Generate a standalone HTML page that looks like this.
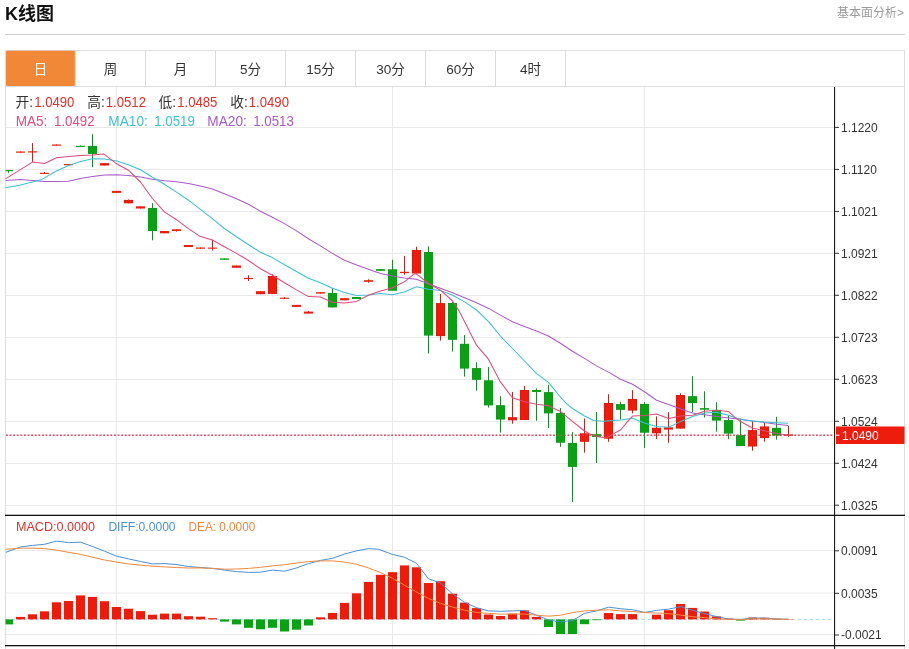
<!DOCTYPE html>
<html lang="zh-CN"><head><meta charset="utf-8"><title>K线图</title>
<style>
html,body{margin:0;padding:0;background:#fff;}
body{width:909px;height:649px;overflow:hidden;position:relative;font-family:"Liberation Sans","Noto Sans CJK SC",sans-serif;}
svg{position:absolute;left:0;top:0;display:block}
text{font-family:"Liberation Sans","Noto Sans CJK SC",sans-serif;}
.ax{font-size:12px;fill:#333}
.tab{font-size:13.5px;fill:#333;text-anchor:middle}
.inf{font-size:13px}
</style></head><body>
<svg width="909" height="649" viewBox="0 0 909 649">
<rect width="909" height="649" fill="#fff"/>

<text x="5" y="19.8" font-size="18" font-weight="bold" fill="#111">K线图</text>
<text x="904" y="17" font-size="12" fill="#999" text-anchor="end">基本面分析&gt;</text>
<rect x="5" y="34" width="900" height="1" fill="#ccc"/>
<rect x="5.5" y="50.5" width="899" height="610" fill="none" stroke="#ddd" stroke-width="1"/>
<rect x="6" y="50.7" width="68.9" height="35.2" rx="1.2" fill="#f08838"/>
<text class="tab" x="40.5" y="73.8" style="fill:#fff">日</text>
<rect x="75" y="51" width="1" height="36" fill="#ddd"/>
<text class="tab" x="110.5" y="73.8" style="fill:#333">周</text>
<rect x="145" y="51" width="1" height="36" fill="#ddd"/>
<text class="tab" x="180.5" y="73.8" style="fill:#333">月</text>
<rect x="215" y="51" width="1" height="36" fill="#ddd"/>
<text class="tab" x="250.5" y="73.8" style="fill:#333">5分</text>
<rect x="285" y="51" width="1" height="36" fill="#ddd"/>
<text class="tab" x="320.5" y="73.8" style="fill:#333">15分</text>
<rect x="355" y="51" width="1" height="36" fill="#ddd"/>
<text class="tab" x="390.5" y="73.8" style="fill:#333">30分</text>
<rect x="425" y="51" width="1" height="36" fill="#ddd"/>
<text class="tab" x="460.5" y="73.8" style="fill:#333">60分</text>
<rect x="495" y="51" width="1" height="36" fill="#ddd"/>
<text class="tab" x="530.5" y="73.8" style="fill:#333">4时</text>
<rect x="565" y="51" width="1" height="36" fill="#ddd"/>
<rect x="5" y="86" width="900" height="1" fill="#ddd"/>
<rect x="6" y="127" width="828" height="1" fill="#e9e9e9"/>
<rect x="6" y="169" width="828" height="1" fill="#e9e9e9"/>
<rect x="6" y="211" width="828" height="1" fill="#e9e9e9"/>
<rect x="6" y="253" width="828" height="1" fill="#e9e9e9"/>
<rect x="6" y="295" width="828" height="1" fill="#e9e9e9"/>
<rect x="6" y="337" width="828" height="1" fill="#e9e9e9"/>
<rect x="6" y="379" width="828" height="1" fill="#e9e9e9"/>
<rect x="6" y="421" width="828" height="1" fill="#e9e9e9"/>
<rect x="6" y="463" width="828" height="1" fill="#e9e9e9"/>
<rect x="6" y="505" width="828" height="1" fill="#e9e9e9"/>
<rect x="116" y="87" width="1" height="562" fill="#e9e9e9"/>
<rect x="392" y="87" width="1" height="562" fill="#e9e9e9"/>
<rect x="644" y="87" width="1" height="562" fill="#e9e9e9"/>
<rect x="6" y="550.0" width="828" height="1" fill="#e9e9e9"/>
<rect x="6" y="592.5" width="828" height="1" fill="#e9e9e9"/>
<rect x="6" y="634.0" width="828" height="1" fill="#e9e9e9"/>
<line x1="6" y1="435.2" x2="834" y2="435.2" stroke="#e8506a" stroke-width="1.5" stroke-dasharray="1.8,1.8"/>
<rect x="8.0" y="170.0" width="1" height="2.8" fill="#1a8a2a"/>
<rect x="5.5" y="170.0" width="7.5" height="1.2" fill="#09a213"/>
<rect x="20.0" y="151.5" width="1" height="1.2" fill="#b82a20"/>
<rect x="16.0" y="151.5" width="9.0" height="1.2" fill="#f01a0a"/>
<rect x="32.0" y="143.1" width="1" height="18.7" fill="#b82a20"/>
<rect x="28.0" y="151.3" width="9.0" height="1.2" fill="#f01a0a"/>
<rect x="44.0" y="172.0" width="1" height="1.9" fill="#b82a20"/>
<rect x="40.0" y="172.8" width="9.0" height="1.1" fill="#f01a0a"/>
<rect x="56.0" y="144.5" width="1" height="1.2" fill="#b82a20"/>
<rect x="52.0" y="144.5" width="9.0" height="1.2" fill="#f01a0a"/>
<rect x="68.0" y="164.0" width="1" height="1.2" fill="#b82a20"/>
<rect x="64.0" y="164.0" width="9.0" height="1.2" fill="#f01a0a"/>
<rect x="80.0" y="145.5" width="1" height="1.4" fill="#1a8a2a"/>
<rect x="76.0" y="145.8" width="9.0" height="1.1" fill="#09a213"/>
<rect x="92.0" y="134.2" width="1" height="33.0" fill="#1a8a2a"/>
<rect x="88.0" y="145.9" width="9.0" height="8.0" fill="#129420"/>
<rect x="88.6" y="146.5" width="7.8" height="6.8" fill="#09a213"/>
<rect x="104.0" y="163.1" width="1" height="2.4" fill="#b82a20"/>
<rect x="100.0" y="163.1" width="9.0" height="2.4" fill="#f01a0a"/>
<rect x="116.0" y="190.9" width="1" height="2.0" fill="#b82a20"/>
<rect x="112.0" y="190.9" width="9.0" height="2.0" fill="#f01a0a"/>
<rect x="128.0" y="199.5" width="1" height="3.8" fill="#b82a20"/>
<rect x="124.0" y="199.9" width="9.0" height="3.4" fill="#d81a10"/>
<rect x="124.6" y="200.5" width="7.8" height="2.2" fill="#f01a0a"/>
<rect x="140.0" y="206.3" width="1" height="2.2" fill="#b82a20"/>
<rect x="136.0" y="206.3" width="9.0" height="2.2" fill="#f01a0a"/>
<rect x="152.0" y="203.2" width="1" height="37.1" fill="#1a8a2a"/>
<rect x="148.0" y="208.0" width="9.0" height="23.1" fill="#129420"/>
<rect x="148.6" y="208.6" width="7.8" height="21.9" fill="#09a213"/>
<rect x="164.0" y="231.0" width="1" height="2.3" fill="#b82a20"/>
<rect x="160.0" y="231.0" width="9.0" height="2.3" fill="#f01a0a"/>
<rect x="176.0" y="229.3" width="1" height="2.3" fill="#b82a20"/>
<rect x="172.0" y="229.3" width="9.0" height="1.7" fill="#f01a0a"/>
<rect x="188.0" y="245.0" width="1" height="2.0" fill="#b82a20"/>
<rect x="184.0" y="245.0" width="9.0" height="2.0" fill="#f01a0a"/>
<rect x="200.0" y="247.5" width="1" height="1.2" fill="#b82a20"/>
<rect x="196.0" y="247.5" width="9.0" height="1.2" fill="#f01a0a"/>
<rect x="212.0" y="240.0" width="1" height="10.6" fill="#b82a20"/>
<rect x="208.0" y="247.6" width="9.0" height="1.1" fill="#f01a0a"/>
<rect x="224.0" y="258.4" width="1" height="1.4" fill="#1a8a2a"/>
<rect x="220.0" y="258.4" width="9.0" height="1.4" fill="#09a213"/>
<rect x="236.0" y="265.5" width="1" height="2.3" fill="#b82a20"/>
<rect x="232.0" y="265.5" width="9.0" height="2.3" fill="#f01a0a"/>
<rect x="248.0" y="275.2" width="1" height="5.8" fill="#b82a20"/>
<rect x="244.0" y="277.9" width="9.0" height="1.2" fill="#f01a0a"/>
<rect x="260.0" y="291.2" width="1" height="3.0" fill="#b82a20"/>
<rect x="256.0" y="291.2" width="9.0" height="3.0" fill="#f01a0a"/>
<rect x="272.0" y="274.3" width="1" height="19.6" fill="#b82a20"/>
<rect x="268.0" y="276.0" width="9.0" height="17.9" fill="#d81a10"/>
<rect x="268.6" y="276.6" width="7.8" height="16.7" fill="#f01a0a"/>
<rect x="284.0" y="297.2" width="1" height="1.6" fill="#b82a20"/>
<rect x="280.0" y="297.7" width="9.0" height="1.1" fill="#f01a0a"/>
<rect x="296.0" y="304.9" width="1" height="2.0" fill="#b82a20"/>
<rect x="292.0" y="304.9" width="9.0" height="2.0" fill="#f01a0a"/>
<rect x="308.0" y="311.0" width="1" height="2.6" fill="#b82a20"/>
<rect x="304.0" y="311.6" width="9.0" height="2.0" fill="#f01a0a"/>
<rect x="320.0" y="292.2" width="1" height="1.4" fill="#b82a20"/>
<rect x="316.0" y="292.2" width="9.0" height="1.4" fill="#f01a0a"/>
<rect x="332.0" y="288.2" width="1" height="19.2" fill="#1a8a2a"/>
<rect x="328.0" y="292.9" width="9.0" height="14.5" fill="#129420"/>
<rect x="328.6" y="293.5" width="7.8" height="13.3" fill="#09a213"/>
<rect x="344.0" y="298.2" width="1" height="2.1" fill="#b82a20"/>
<rect x="340.0" y="298.2" width="9.0" height="2.1" fill="#f01a0a"/>
<rect x="356.0" y="297.0" width="1" height="2.0" fill="#1a8a2a"/>
<rect x="352.0" y="297.0" width="9.0" height="2.0" fill="#09a213"/>
<rect x="368.0" y="279.3" width="1" height="3.5" fill="#b82a20"/>
<rect x="364.0" y="280.2" width="9.0" height="1.6" fill="#f01a0a"/>
<rect x="380.0" y="269.1" width="1" height="1.7" fill="#1a8a2a"/>
<rect x="376.0" y="269.1" width="9.0" height="1.7" fill="#09a213"/>
<rect x="392.0" y="259.7" width="1" height="31.0" fill="#1a8a2a"/>
<rect x="388.0" y="269.3" width="9.0" height="21.4" fill="#129420"/>
<rect x="388.6" y="269.9" width="7.8" height="20.2" fill="#09a213"/>
<rect x="404.0" y="255.9" width="1" height="18.9" fill="#b82a20"/>
<rect x="400.0" y="271.8" width="9.0" height="1.3" fill="#f01a0a"/>
<rect x="416.0" y="246.7" width="1" height="26.8" fill="#b82a20"/>
<rect x="412.0" y="250.0" width="9.0" height="23.5" fill="#d81a10"/>
<rect x="412.6" y="250.6" width="7.8" height="22.3" fill="#f01a0a"/>
<rect x="428.0" y="246.4" width="1" height="107.1" fill="#1a8a2a"/>
<rect x="424.0" y="252.0" width="9.0" height="83.6" fill="#129420"/>
<rect x="424.6" y="252.6" width="7.8" height="82.4" fill="#09a213"/>
<rect x="440.0" y="294.0" width="1" height="46.6" fill="#b82a20"/>
<rect x="436.0" y="303.1" width="9.0" height="33.0" fill="#d81a10"/>
<rect x="436.6" y="303.7" width="7.8" height="31.8" fill="#f01a0a"/>
<rect x="452.0" y="302.0" width="1" height="49.5" fill="#1a8a2a"/>
<rect x="448.0" y="303.0" width="9.0" height="36.8" fill="#129420"/>
<rect x="448.6" y="303.6" width="7.8" height="35.6" fill="#09a213"/>
<rect x="464.0" y="335.1" width="1" height="41.5" fill="#1a8a2a"/>
<rect x="460.0" y="343.8" width="9.0" height="24.8" fill="#129420"/>
<rect x="460.6" y="344.4" width="7.8" height="23.6" fill="#09a213"/>
<rect x="476.0" y="362.2" width="1" height="28.4" fill="#1a8a2a"/>
<rect x="472.0" y="368.1" width="9.0" height="11.7" fill="#129420"/>
<rect x="472.6" y="368.7" width="7.8" height="10.5" fill="#09a213"/>
<rect x="488.0" y="366.9" width="1" height="40.6" fill="#1a8a2a"/>
<rect x="484.0" y="380.3" width="9.0" height="25.1" fill="#129420"/>
<rect x="484.6" y="380.9" width="7.8" height="23.9" fill="#09a213"/>
<rect x="500.0" y="396.2" width="1" height="36.4" fill="#1a8a2a"/>
<rect x="496.0" y="405.2" width="9.0" height="14.4" fill="#129420"/>
<rect x="496.6" y="405.8" width="7.8" height="13.2" fill="#09a213"/>
<rect x="512.0" y="392.0" width="1" height="31.7" fill="#b82a20"/>
<rect x="508.0" y="417.2" width="9.0" height="3.1" fill="#d81a10"/>
<rect x="508.6" y="417.8" width="7.8" height="1.9" fill="#f01a0a"/>
<rect x="524.0" y="385.9" width="1" height="34.1" fill="#b82a20"/>
<rect x="520.0" y="390.0" width="9.0" height="30.0" fill="#d81a10"/>
<rect x="520.6" y="390.6" width="7.8" height="28.8" fill="#f01a0a"/>
<rect x="536.0" y="388.5" width="1" height="32.3" fill="#1a8a2a"/>
<rect x="532.0" y="390.0" width="9.0" height="2.0" fill="#09a213"/>
<rect x="548.0" y="384.9" width="1" height="43.1" fill="#1a8a2a"/>
<rect x="544.0" y="392.1" width="9.0" height="21.3" fill="#129420"/>
<rect x="544.6" y="392.7" width="7.8" height="20.1" fill="#09a213"/>
<rect x="560.0" y="408.1" width="1" height="38.7" fill="#1a8a2a"/>
<rect x="556.0" y="413.0" width="9.0" height="29.7" fill="#129420"/>
<rect x="556.6" y="413.6" width="7.8" height="28.5" fill="#09a213"/>
<rect x="572.0" y="432.1" width="1" height="69.9" fill="#1a8a2a"/>
<rect x="568.0" y="442.9" width="9.0" height="24.0" fill="#129420"/>
<rect x="568.6" y="443.5" width="7.8" height="22.8" fill="#09a213"/>
<rect x="584.0" y="418.5" width="1" height="34.1" fill="#b82a20"/>
<rect x="580.0" y="433.3" width="9.0" height="8.5" fill="#d81a10"/>
<rect x="580.6" y="433.9" width="7.8" height="7.3" fill="#f01a0a"/>
<rect x="596.0" y="412.1" width="1" height="50.9" fill="#1a8a2a"/>
<rect x="592.0" y="434.2" width="9.0" height="2.8" fill="#09a213"/>
<rect x="608.0" y="394.2" width="1" height="47.6" fill="#b82a20"/>
<rect x="604.0" y="403.0" width="9.0" height="35.7" fill="#d81a10"/>
<rect x="604.6" y="403.6" width="7.8" height="34.5" fill="#f01a0a"/>
<rect x="620.0" y="401.7" width="1" height="17.7" fill="#1a8a2a"/>
<rect x="616.0" y="404.1" width="9.0" height="5.7" fill="#129420"/>
<rect x="616.6" y="404.7" width="7.8" height="4.5" fill="#09a213"/>
<rect x="632.0" y="390.1" width="1" height="23.2" fill="#b82a20"/>
<rect x="628.0" y="398.9" width="9.0" height="11.7" fill="#d81a10"/>
<rect x="628.6" y="399.5" width="7.8" height="10.5" fill="#f01a0a"/>
<rect x="644.0" y="402.1" width="1" height="45.7" fill="#1a8a2a"/>
<rect x="640.0" y="403.9" width="9.0" height="28.8" fill="#129420"/>
<rect x="640.6" y="404.5" width="7.8" height="27.6" fill="#09a213"/>
<rect x="656.0" y="416.4" width="1" height="22.6" fill="#b82a20"/>
<rect x="652.0" y="427.8" width="9.0" height="5.5" fill="#d81a10"/>
<rect x="652.6" y="428.4" width="7.8" height="4.3" fill="#f01a0a"/>
<rect x="668.0" y="412.2" width="1" height="30.6" fill="#b82a20"/>
<rect x="664.0" y="427.3" width="9.0" height="2.3" fill="#f01a0a"/>
<rect x="680.0" y="393.3" width="1" height="35.3" fill="#b82a20"/>
<rect x="676.0" y="395.0" width="9.0" height="33.6" fill="#d81a10"/>
<rect x="676.6" y="395.6" width="7.8" height="32.4" fill="#f01a0a"/>
<rect x="692.0" y="376.2" width="1" height="36.0" fill="#1a8a2a"/>
<rect x="688.0" y="396.2" width="9.0" height="6.9" fill="#129420"/>
<rect x="688.6" y="396.8" width="7.8" height="5.7" fill="#09a213"/>
<rect x="704.0" y="391.3" width="1" height="26.2" fill="#1a8a2a"/>
<rect x="700.0" y="408.1" width="9.0" height="1.6" fill="#09a213"/>
<rect x="716.0" y="402.2" width="1" height="29.5" fill="#1a8a2a"/>
<rect x="712.0" y="409.8" width="9.0" height="10.8" fill="#129420"/>
<rect x="712.6" y="410.4" width="7.8" height="9.6" fill="#09a213"/>
<rect x="728.0" y="415.4" width="1" height="23.8" fill="#1a8a2a"/>
<rect x="724.0" y="420.1" width="9.0" height="13.5" fill="#129420"/>
<rect x="724.6" y="420.7" width="7.8" height="12.3" fill="#09a213"/>
<rect x="740.0" y="418.6" width="1" height="27.4" fill="#1a8a2a"/>
<rect x="736.0" y="435.1" width="9.0" height="10.9" fill="#129420"/>
<rect x="736.6" y="435.7" width="7.8" height="9.7" fill="#09a213"/>
<rect x="752.0" y="421.2" width="1" height="29.5" fill="#b82a20"/>
<rect x="748.0" y="430.1" width="9.0" height="16.4" fill="#d81a10"/>
<rect x="748.6" y="430.7" width="7.8" height="15.2" fill="#f01a0a"/>
<rect x="764.0" y="422.2" width="1" height="19.5" fill="#b82a20"/>
<rect x="760.0" y="426.4" width="9.0" height="11.7" fill="#d81a10"/>
<rect x="760.6" y="427.0" width="7.8" height="10.5" fill="#f01a0a"/>
<rect x="776.0" y="416.8" width="1" height="22.8" fill="#1a8a2a"/>
<rect x="772.0" y="427.8" width="9.0" height="7.8" fill="#129420"/>
<rect x="772.6" y="428.4" width="7.8" height="6.6" fill="#09a213"/>
<rect x="788.0" y="425.8" width="1" height="11.0" fill="#b82a20"/>
<rect x="784.0" y="434.5" width="9.0" height="1.3" fill="#f01a0a"/>
<line x1="6" y1="435.2" x2="834" y2="435.2" stroke="#e8506a" stroke-width="1.5" stroke-dasharray="1.8,1.8" opacity="0.4"/>
<polyline points="5.5,180.5 20.4,179.4 32.4,180.5 44.5,181.4 56.5,181.5 68.6,181.2 80.4,178.5 92.5,176.4 104.5,175.0 116.6,174.7 128.4,175.4 140.5,177.0 152.4,179.3 164.4,180.8 176.5,181.8 188.5,183.4 200.4,186.0 212.4,189.0 224.4,193.8 236.5,198.8 248.5,204.3 260.4,211.2 272.4,217.2 284.5,223.6 296.5,230.9 308.5,238.7 320.4,245.9 332.4,253.4 344.5,260.3 356.6,265.1 368.4,269.3 380.5,273.5 392.4,276.0 404.4,278.0 416.4,279.3 428.5,283.8 440.5,288.2 452.6,292.7 464.6,297.7 476.5,302.8 488.6,308.4 500.4,315.1 512.5,321.7 524.5,326.4 536.6,330.9 548.4,336.0 560.4,343.2 572.4,351.2 584.5,358.4 596.5,365.9 608.5,372.1 620.6,379.3 632.5,384.3 644.5,391.8 656.5,400.2 668.6,404.6 680.6,408.9 692.6,413.0 704.5,414.7 716.4,416.4 728.4,417.9 740.5,419.3 752.5,420.9 764.5,422.4 776.5,424.3 788.2,425.4" fill="none" stroke="#a85ac8" stroke-width="1.05" stroke-linejoin="round"/>
<polyline points="5.5,187.7 20.4,184.9 32.4,181.9 41.8,179.4 56.5,171.0 68.6,165.5 80.4,161.5 92.5,158.8 104.5,159.0 116.6,161.0 128.4,164.8 140.5,169.7 152.4,177.2 164.4,184.3 176.5,192.1 188.5,200.2 200.4,209.4 212.4,218.6 224.4,228.5 236.5,236.8 248.5,244.7 260.4,252.3 272.4,257.6 284.5,264.8 296.5,271.5 308.5,278.2 320.4,282.7 332.4,288.2 344.5,292.4 356.6,295.5 368.4,294.9 380.5,293.5 392.4,294.7 404.4,291.9 416.4,286.8 428.5,289.3 440.5,290.5 452.6,295.2 464.6,301.9 476.5,310.0 488.6,321.7 500.4,336.0 512.5,348.5 524.5,361.0 536.6,373.6 548.4,382.3 560.4,397.0 567.0,404.2 572.5,408.5 584.5,416.0 593.6,420.5 603.7,421.3 620.6,420.0 632.5,418.3 644.5,423.1 656.5,426.6 668.6,427.3 680.6,421.6 692.6,416.4 704.5,412.9 716.4,412.3 728.4,415.3 740.5,419.5 752.5,421.0 764.5,422.1 776.5,422.7 788.2,423.2" fill="none" stroke="#3cbfd0" stroke-width="1.05" stroke-linejoin="round"/>
<polyline points="5.5,178.9 32.4,162.1 44.5,163.5 56.5,157.8 68.6,156.5 80.4,155.6 92.5,155.1 103.7,153.9 116.6,163.8 128.4,170.2 140.5,182.0 152.4,198.5 164.4,211.9 176.5,219.7 188.5,228.6 200.4,236.6 212.4,240.0 224.4,246.7 236.5,253.4 248.5,260.5 260.4,268.8 272.4,275.2 284.5,282.7 296.5,289.9 308.5,296.6 320.4,296.9 332.4,302.3 344.5,303.0 356.6,301.4 368.4,295.2 380.5,291.0 392.4,287.7 404.4,281.8 413.6,274.3 416.4,273.8 428.5,283.5 440.5,290.2 452.6,301.0 458.7,310.2 464.5,321.5 476.5,345.2 488.6,359.4 500.4,381.9 512.5,397.8 524.5,401.8 536.6,404.3 548.4,405.8 560.4,411.4 572.4,421.4 584.5,431.0 590.4,434.3 596.5,436.4 603.6,437.4 608.5,436.9 615.5,432.6 620.6,430.0 628.6,420.3 632.5,416.1 644.5,415.6 656.5,413.9 668.6,418.6 680.6,416.0 692.6,415.2 704.5,411.2 716.4,410.3 728.3,411.4 734.9,417.3 740.5,421.5 752.5,428.0 764.5,430.8 776.5,433.6 788.3,435.3" fill="none" stroke="#e04a7c" stroke-width="1.05" stroke-linejoin="round"/>
<line x1="6" y1="619.4" x2="832" y2="619.4" stroke="#a8d4ea" stroke-width="1" stroke-dasharray="3,3"/>
<rect x="5.5" y="619.4" width="7.5" height="5.0" fill="#09a213"/>
<rect x="16.0" y="616.9" width="9.0" height="2.5" fill="#f01a0a"/>
<rect x="28.0" y="614.3" width="9.0" height="5.1" fill="#f01a0a"/>
<rect x="40.0" y="611.3" width="9.0" height="8.1" fill="#f01a0a"/>
<rect x="52.0" y="602.3" width="9.0" height="17.1" fill="#f01a0a"/>
<rect x="64.0" y="601.0" width="9.0" height="18.4" fill="#f01a0a"/>
<rect x="76.0" y="595.4" width="9.0" height="24.0" fill="#f01a0a"/>
<rect x="88.0" y="596.9" width="9.0" height="22.5" fill="#f01a0a"/>
<rect x="100.0" y="601.2" width="9.0" height="18.2" fill="#f01a0a"/>
<rect x="112.0" y="607.0" width="9.0" height="12.4" fill="#f01a0a"/>
<rect x="124.0" y="608.7" width="9.0" height="10.7" fill="#f01a0a"/>
<rect x="136.0" y="611.1" width="9.0" height="8.3" fill="#f01a0a"/>
<rect x="148.0" y="614.7" width="9.0" height="4.7" fill="#f01a0a"/>
<rect x="160.0" y="613.6" width="9.0" height="5.8" fill="#f01a0a"/>
<rect x="172.0" y="613.6" width="9.0" height="5.8" fill="#f01a0a"/>
<rect x="184.0" y="616.2" width="9.0" height="3.2" fill="#f01a0a"/>
<rect x="196.0" y="616.7" width="9.0" height="2.7" fill="#f01a0a"/>
<rect x="208.0" y="618.2" width="9.0" height="1.2" fill="#f01a0a"/>
<rect x="220.0" y="619.4" width="9.0" height="2.2" fill="#09a213"/>
<rect x="232.0" y="619.4" width="9.0" height="5.0" fill="#09a213"/>
<rect x="244.0" y="619.4" width="9.0" height="8.4" fill="#09a213"/>
<rect x="256.0" y="619.4" width="9.0" height="9.9" fill="#09a213"/>
<rect x="268.0" y="619.4" width="9.0" height="8.4" fill="#09a213"/>
<rect x="280.0" y="619.4" width="9.0" height="12.1" fill="#09a213"/>
<rect x="292.0" y="619.4" width="9.0" height="10.3" fill="#09a213"/>
<rect x="304.0" y="619.4" width="9.0" height="6.1" fill="#09a213"/>
<rect x="316.0" y="617.3" width="9.0" height="2.1" fill="#f01a0a"/>
<rect x="328.0" y="613.0" width="9.0" height="6.4" fill="#f01a0a"/>
<rect x="340.0" y="602.9" width="9.0" height="16.5" fill="#f01a0a"/>
<rect x="352.0" y="593.3" width="9.0" height="26.1" fill="#f01a0a"/>
<rect x="364.0" y="581.9" width="9.0" height="37.5" fill="#f01a0a"/>
<rect x="376.0" y="574.8" width="9.0" height="44.6" fill="#f01a0a"/>
<rect x="388.0" y="572.2" width="9.0" height="47.2" fill="#f01a0a"/>
<rect x="400.0" y="565.4" width="9.0" height="54.0" fill="#f01a0a"/>
<rect x="412.0" y="567.3" width="9.0" height="52.1" fill="#f01a0a"/>
<rect x="424.0" y="583.0" width="9.0" height="36.4" fill="#f01a0a"/>
<rect x="436.0" y="581.2" width="9.0" height="38.2" fill="#f01a0a"/>
<rect x="448.0" y="593.7" width="9.0" height="25.7" fill="#f01a0a"/>
<rect x="460.0" y="602.7" width="9.0" height="16.7" fill="#f01a0a"/>
<rect x="472.0" y="608.1" width="9.0" height="11.3" fill="#f01a0a"/>
<rect x="484.0" y="614.5" width="9.0" height="4.9" fill="#f01a0a"/>
<rect x="496.0" y="616.0" width="9.0" height="3.4" fill="#f01a0a"/>
<rect x="508.0" y="613.6" width="9.0" height="5.8" fill="#f01a0a"/>
<rect x="520.0" y="610.4" width="9.0" height="9.0" fill="#f01a0a"/>
<rect x="532.0" y="616.9" width="9.0" height="2.5" fill="#f01a0a"/>
<rect x="544.0" y="619.4" width="9.0" height="7.6" fill="#09a213"/>
<rect x="556.0" y="619.4" width="9.0" height="14.6" fill="#09a213"/>
<rect x="568.0" y="619.4" width="9.0" height="14.6" fill="#09a213"/>
<rect x="580.0" y="619.4" width="9.0" height="4.8" fill="#09a213"/>
<rect x="592.0" y="619.4" width="9.0" height="0.8" fill="#09a213"/>
<rect x="604.0" y="613.0" width="9.0" height="6.4" fill="#f01a0a"/>
<rect x="616.0" y="614.1" width="9.0" height="5.3" fill="#f01a0a"/>
<rect x="628.0" y="614.1" width="9.0" height="5.3" fill="#f01a0a"/>
<rect x="652.0" y="614.7" width="9.0" height="4.7" fill="#f01a0a"/>
<rect x="664.0" y="610.2" width="9.0" height="9.2" fill="#f01a0a"/>
<rect x="676.0" y="604.0" width="9.0" height="15.4" fill="#f01a0a"/>
<rect x="688.0" y="607.9" width="9.0" height="11.5" fill="#f01a0a"/>
<rect x="700.0" y="611.5" width="9.0" height="7.9" fill="#f01a0a"/>
<rect x="712.0" y="616.4" width="9.0" height="3.0" fill="#f01a0a"/>
<rect x="724.0" y="618.6" width="9.0" height="0.8" fill="#f01a0a"/>
<rect x="736.0" y="619.4" width="9.0" height="1.2" fill="#09a213"/>
<rect x="748.0" y="617.6" width="9.0" height="1.8" fill="#f01a0a"/>
<rect x="760.0" y="617.8" width="9.0" height="1.6" fill="#f01a0a"/>
<rect x="772.0" y="618.8" width="9.0" height="0.6" fill="#f01a0a"/>
<rect x="784.0" y="619.0" width="9.0" height="0.4" fill="#f01a0a"/>
<polyline points="5.8,552.3 20.8,546.9 32.6,545.4 44.4,544.3 56.4,541.1 68.5,542.6 80.5,542.2 92.5,546.5 104.5,551.2 116.5,556.1 128.5,558.9 140.6,561.5 152.4,563.9 164.4,563.6 176.4,564.5 188.4,566.5 200.5,567.5 212.5,568.4 224.5,570.1 236.5,571.6 248.5,572.4 260.5,572.2 272.6,570.1 284.6,571.2 296.6,567.9 308.6,563.6 320.6,560.4 332.6,558.3 344.7,554.0 356.7,550.8 368.7,548.6 378.6,549.3 392.3,554.4 404.3,557.2 416.4,563.2 428.4,578.7 440.4,583.0 452.4,593.7 464.4,602.3 476.4,607.6 488.5,610.9 500.5,611.3 512.5,610.9 524.5,610.4 536.5,615.2 548.5,619.9 560.6,622.0 572.6,620.5 584.6,613.4 596.6,610.9 608.6,607.2 620.7,608.7 632.7,609.8 644.7,612.4 656.7,610.4 668.7,609.1 680.8,606.6 692.8,610.4 704.8,613.6 716.8,616.7 728.8,619.0 740.8,619.4 752.8,618.0 764.8,618.0 776.8,619.0 788.3,619.3" fill="none" stroke="#4a90d9" stroke-width="1.0" stroke-linejoin="round"/>
<polyline points="5.8,549.3 20.8,548.2 32.6,548.2 44.4,548.6 56.4,550.1 68.5,552.3 80.5,554.4 92.5,557.2 104.5,560.0 116.5,562.1 128.5,563.9 140.6,565.2 152.4,566.2 164.4,566.9 176.4,567.5 188.4,568.0 200.5,567.9 212.5,568.4 224.5,569.2 236.5,569.0 248.5,568.4 260.5,567.3 272.6,565.8 284.6,564.7 296.6,563.0 308.6,561.5 320.6,560.9 332.6,560.9 344.7,562.1 356.7,564.3 368.7,568.0 380.3,572.5 392.3,578.2 404.3,585.1 416.4,592.0 428.4,598.4 440.4,603.3 452.4,607.0 464.4,610.2 476.4,612.4 488.5,613.4 500.5,614.1 512.5,614.1 524.5,614.1 536.5,615.2 548.5,616.2 560.6,615.2 572.6,612.6 584.6,610.9 596.6,610.2 608.6,609.8 620.7,610.9 632.7,611.5 644.7,612.6 656.7,613.0 668.7,613.6 680.8,615.2 692.8,616.7 704.8,617.7 716.8,618.8 728.8,619.4 740.8,619.7 752.8,618.9 764.8,618.7 776.8,619.1 788.3,619.3" fill="none" stroke="#f0883c" stroke-width="1.0" stroke-linejoin="round"/>
<rect x="5" y="514.7" width="900" height="1.3" fill="#111"/>
<rect x="5" y="645" width="900" height="1.3" fill="#111"/>
<rect x="834" y="87" width="1.1" height="562" fill="#1a1a1a"/>
<rect x="835" y="126.9" width="4" height="1" fill="#333"/>
<text class="ax" x="841" y="131.7">1.1220</text>
<rect x="835" y="168.9" width="4" height="1" fill="#333"/>
<text class="ax" x="841" y="173.7">1.1120</text>
<rect x="835" y="210.9" width="4" height="1" fill="#333"/>
<text class="ax" x="841" y="215.7">1.1021</text>
<rect x="835" y="252.8" width="4" height="1" fill="#333"/>
<text class="ax" x="841" y="257.6">1.0921</text>
<rect x="835" y="294.8" width="4" height="1" fill="#333"/>
<text class="ax" x="841" y="299.6">1.0822</text>
<rect x="835" y="336.8" width="4" height="1" fill="#333"/>
<text class="ax" x="841" y="341.6">1.0723</text>
<rect x="835" y="378.8" width="4" height="1" fill="#333"/>
<text class="ax" x="841" y="383.6">1.0623</text>
<rect x="835" y="420.8" width="4" height="1" fill="#333"/>
<text class="ax" x="841" y="425.6">1.0524</text>
<rect x="835" y="462.8" width="4" height="1" fill="#333"/>
<text class="ax" x="841" y="467.6">1.0424</text>
<rect x="835" y="504.7" width="4" height="1" fill="#333"/>
<text class="ax" x="841" y="509.5">1.0325</text>
<rect x="835" y="550.3" width="4" height="1" fill="#333"/>
<text class="ax" x="841" y="555.1">0.0091</text>
<rect x="835" y="592.8" width="4" height="1" fill="#333"/>
<text class="ax" x="841" y="597.6">0.0035</text>
<rect x="835" y="634.5" width="4" height="1" fill="#333"/>
<text class="ax" x="841" y="639.3">-0.0021</text>
<rect x="836" y="426.5" width="68.5" height="17.5" fill="#ee1c0d"/>
<rect x="836" y="434.7" width="3.5" height="1" fill="#fff"/>
<text x="842" y="439.6" font-size="12" fill="#fff">1.0490</text>
<text x="15.6" y="107.3" font-size="14" fill="#333" textLength="17.5" lengthAdjust="spacingAndGlyphs">开:</text>
<text x="34.2" y="107.3" font-size="14" fill="#e0302a" textLength="40.2" lengthAdjust="spacingAndGlyphs">1.0490</text>
<text x="87.2" y="107.3" font-size="14" fill="#333" textLength="17.5" lengthAdjust="spacingAndGlyphs">高:</text>
<text x="105.80000000000001" y="107.3" font-size="14" fill="#e0302a" textLength="40.2" lengthAdjust="spacingAndGlyphs">1.0512</text>
<text x="158.6" y="107.3" font-size="14" fill="#333" textLength="17.5" lengthAdjust="spacingAndGlyphs">低:</text>
<text x="177.2" y="107.3" font-size="14" fill="#e0302a" textLength="40.2" lengthAdjust="spacingAndGlyphs">1.0485</text>
<text x="230.2" y="107.3" font-size="14" fill="#333" textLength="17.5" lengthAdjust="spacingAndGlyphs">收:</text>
<text x="248.79999999999998" y="107.3" font-size="14" fill="#e0302a" textLength="40.2" lengthAdjust="spacingAndGlyphs">1.0490</text>
<text x="15.8" y="125.7" font-size="14" fill="#e04a7c" textLength="31.5" lengthAdjust="spacingAndGlyphs">MA5:</text>
<text x="54.0" y="125.7" font-size="14" fill="#e04a7c" textLength="40.6" lengthAdjust="spacingAndGlyphs">1.0492</text>
<text x="108.3" y="125.7" font-size="14" fill="#3cbfd0" textLength="39.5" lengthAdjust="spacingAndGlyphs">MA10:</text>
<text x="154.2" y="125.7" font-size="14" fill="#3cbfd0" textLength="40.6" lengthAdjust="spacingAndGlyphs">1.0519</text>
<text x="207.3" y="125.7" font-size="14" fill="#a85ac8" textLength="39.5" lengthAdjust="spacingAndGlyphs">MA20:</text>
<text x="253.2" y="125.7" font-size="14" fill="#a85ac8" textLength="40.6" lengthAdjust="spacingAndGlyphs">1.0513</text>
<text x="16" y="530.8" font-size="12" fill="#e0302a" textLength="79" lengthAdjust="spacingAndGlyphs">MACD:0.0000</text>
<text x="108.4" y="530.8" font-size="12" fill="#4a90d9" textLength="67.2" lengthAdjust="spacingAndGlyphs">DIFF:0.0000</text>
<text x="188.6" y="530.8" font-size="12" fill="#f0883c" textLength="66.6" lengthAdjust="spacingAndGlyphs">DEA: 0.0000</text>
</svg></body></html>
